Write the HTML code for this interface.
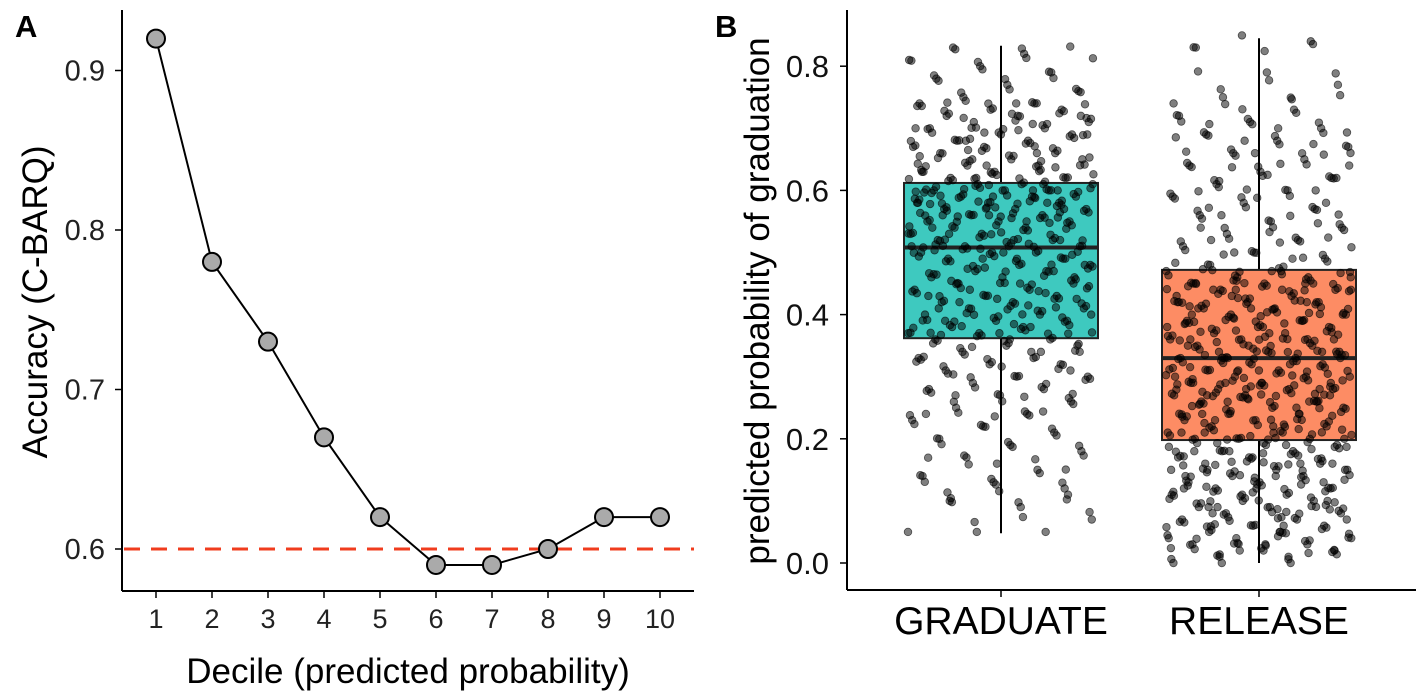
<!DOCTYPE html>
<html><head><meta charset="utf-8"><style>
html,body{margin:0;padding:0;background:#fff;}
svg{display:block;font-family:"Liberation Sans",Arial,sans-serif;}
</style></head><body>
<svg id="chart" width="1418" height="697" viewBox="0 0 1418 697">
<text x="15" y="37" font-size="31" font-weight="bold">A</text>
<text x="715" y="37" font-size="31" font-weight="bold">B</text>
<g id="pa"></g>
<g id="pb"></g>
</svg>
<script>
const deciles=[1,2,3,4,5,6,7,8,9,10];
const accuracy=[0.92,0.78,0.73,0.67,0.62,0.59,0.59,0.60,0.62,0.62];
const aTicks=[0.6,0.7,0.8,0.9];
const aTickLabels=["0.6","0.7","0.8","0.9"];
const baseline=0.6;
const groups=["GRADUATE","RELEASE"];
const q1=[0.362,0.198];
const med=[0.508,0.330];
const q3=[0.612,0.472];
const wLo=[0.048,0.0];
const wHi=[0.833,0.845];
const bTicks=[0,0.2,0.4,0.6,0.8];
const bTickLabels=["0.0","0.2","0.4","0.6","0.8"];
const gradPts=[0.05,0.07,0.09,0.10,0.12,0.13,0.14,0.15,0.17,0.18,0.19,0.20,0.21,0.22,0.23,0.24,0.25,0.26,0.27,0.28,0.28,0.29,0.30,0.30,0.31,0.32,0.32,0.33,0.33,0.34,0.35,0.35,0.36,0.36,0.37,0.37,0.38,0.38,0.39,0.39,0.40,0.40,0.41,0.41,0.42,0.42,0.43,0.43,0.44,0.44,0.45,0.45,0.46,0.46,0.47,0.47,0.48,0.48,0.49,0.49,0.50,0.50,0.50,0.51,0.51,0.51,0.52,0.52,0.53,0.53,0.54,0.54,0.55,0.55,0.55,0.56,0.56,0.57,0.57,0.57,0.58,0.58,0.58,0.59,0.59,0.59,0.60,0.60,0.60,0.61,0.61,0.61,0.62,0.62,0.63,0.63,0.64,0.64,0.65,0.65,0.66,0.66,0.67,0.67,0.68,0.68,0.69,0.69,0.70,0.70,0.71,0.71,0.72,0.72,0.73,0.73,0.74,0.74,0.75,0.76,0.77,0.78,0.79,0.80,0.81,0.82,0.83,0.11,0.16,0.24,0.34,0.44,0.48,0.52,0.56,0.60,0.64,0.70,0.38,0.42,0.46,0.50,0.54,0.58,0.62,0.40,0.45,0.53,0.57,0.59,0.63,0.66,0.68,0.72,0.36,0.41,0.47,0.49,0.51,0.55,0.27,0.31,0.37,0.43,0.61,0.65,0.69,0.74,0.39,0.52,0.56,0.58,0.60];
const relPts=[0.00,0.01,0.02,0.02,0.03,0.03,0.04,0.04,0.05,0.05,0.06,0.06,0.07,0.07,0.08,0.08,0.09,0.09,0.10,0.10,0.11,0.11,0.12,0.12,0.13,0.13,0.14,0.14,0.15,0.15,0.16,0.16,0.17,0.17,0.18,0.18,0.19,0.19,0.20,0.20,0.20,0.21,0.21,0.22,0.22,0.23,0.23,0.24,0.24,0.25,0.25,0.26,0.26,0.27,0.27,0.28,0.28,0.28,0.29,0.29,0.30,0.30,0.30,0.31,0.31,0.32,0.32,0.33,0.33,0.33,0.34,0.34,0.35,0.35,0.36,0.36,0.37,0.37,0.38,0.38,0.39,0.39,0.40,0.40,0.41,0.41,0.42,0.42,0.43,0.43,0.44,0.44,0.45,0.45,0.46,0.46,0.47,0.47,0.48,0.49,0.50,0.51,0.52,0.53,0.54,0.55,0.56,0.57,0.58,0.59,0.60,0.61,0.62,0.63,0.64,0.65,0.66,0.67,0.68,0.69,0.70,0.71,0.72,0.73,0.75,0.77,0.79,0.83,0.84,0.02,0.04,0.06,0.08,0.10,0.12,0.14,0.16,0.18,0.20,0.22,0.24,0.26,0.28,0.30,0.32,0.34,0.36,0.38,0.40,0.42,0.44,0.46,0.05,0.09,0.13,0.17,0.21,0.25,0.29,0.33,0.37,0.41,0.45,0.11,0.15,0.19,0.23,0.27,0.31,0.35,0.39,0.43,0.07,0.14,0.21,0.28,0.35,0.42,0.49,0.56,0.62,0.03,0.18,0.26,0.31,0.38,0.44,0.52,0.58,0.66,0.12,0.24,0.33,0.40,0.47,0.54,0.60,0.68,0.74,0.01,0.09,0.16,0.29,0.36,0.45,0.50,0.64,0.70,0.27,0.34,0.41];
const NS='http://www.w3.org/2000/svg';
function mk(p,t,a){const e=document.createElementNS(NS,t);for(const k in a)e.setAttribute(k,a[k]);p.appendChild(e);return e;}
const pa=document.getElementById('pa');
const ax=d=>156+(d-1)*56;
const ay=v=>549-(v-0.6)*1595;
let e;
e=mk(pa,'line',{x1:122,y1:10,x2:122,y2:591,stroke:'#000','stroke-width':2});

e=mk(pa,'line',{x1:122,y1:591,x2:694,y2:591,stroke:'#000','stroke-width':2});

aTicks.forEach((t,i)=>{mk(pa,'line',{x1:115,x2:122,y1:ay(t),y2:ay(t),stroke:'#000','stroke-width':1.5});
e=mk(pa,'text',{x:105,y:ay(t)+10,'font-size':29,'text-anchor':'end',fill:'#222'});e.textContent=aTickLabels[i];
});
deciles.forEach(d=>{mk(pa,'line',{x1:ax(d),x2:ax(d),y1:591,y2:598,stroke:'#000','stroke-width':1.5});
e=mk(pa,'text',{x:ax(d),y:628,'font-size':27,'text-anchor':'middle',fill:'#222'});e.textContent=d;
});
e=mk(pa,'text',{x:408,y:683,'font-size':35,'text-anchor':'middle',fill:'#000'});e.textContent='Decile (predicted probability)';

e=mk(pa,'text',{x:0,y:0,'font-size':35,'text-anchor':'middle',fill:'#000',transform:'translate(47,302) rotate(-90)'});e.textContent='Accuracy (C-BARQ)';

e=mk(pa,'line',{x1:124,x2:694,y1:ay(baseline),y2:ay(baseline),stroke:'#f03c1e','stroke-width':3,'stroke-dasharray':'16,11'});

e=mk(pa,'polyline',{points:deciles.map((d,i)=>ax(d)+','+ay(accuracy[i])).join(' '),fill:'none',stroke:'#000','stroke-width':2});

deciles.forEach((d,i)=>{e=mk(pa,'circle',{cx:ax(d),cy:ay(accuracy[i]),r:9,fill:'#aaa',stroke:'#000','stroke-width':2});
});
const pb=document.getElementById('pb');
const bx=[1001,1259];
const by=v=>563-v*621;
e=mk(pb,'line',{x1:847,y1:10,x2:847,y2:590,stroke:'#000','stroke-width':2});

e=mk(pb,'line',{x1:847,y1:590,x2:1416,y2:590,stroke:'#000','stroke-width':2});

bTicks.forEach((t,i)=>{mk(pb,'line',{x1:840,x2:847,y1:by(t),y2:by(t),stroke:'#000','stroke-width':1.5});
e=mk(pb,'text',{x:829,y:by(t)+11,'font-size':31,'text-anchor':'end',fill:'#111'});e.textContent=bTickLabels[i];
});
groups.forEach((g,i)=>{mk(pb,'line',{x1:bx[i],x2:bx[i],y1:590,y2:597,stroke:'#000','stroke-width':1.5});
e=mk(pb,'text',{x:bx[i],y:634,'font-size':39,'text-anchor':'middle',fill:'#000'});e.textContent=g;
});
e=mk(pb,'text',{x:0,y:0,'font-size':35,'text-anchor':'middle',fill:'#000',transform:'translate(769,301) rotate(-90)'});e.textContent='predicted probability of graduation';

const fills=['#3ec9bf','#fd8c64'];
groups.forEach((g,i)=>{
e=mk(pb,'line',{x1:bx[i],x2:bx[i],y1:by(wLo[i]),y2:by(wHi[i]),stroke:'#000','stroke-width':2});

e=mk(pb,'rect',{x:bx[i]-97,y:by(q3[i]),width:194,height:by(q1[i])-by(q3[i]),fill:fills[i],stroke:'#222','stroke-width':2});

e=mk(pb,'line',{x1:bx[i]-97,x2:bx[i]+97,y1:by(med[i]),y2:by(med[i]),stroke:'#222','stroke-width':4});

});
[gradPts,relPts].forEach((pts,i)=>{
const gg=mk(pb,'g',{});


for(let rep=0;rep<3;rep++){
pts.forEach((v,k)=>{const f=((k*0.618034+rep*0.37+i*0.3)%1);const dx=(f*2-1)*93;const dy=(rep-1)*((k*0.414)%1)*6;
e=mk(gg,'circle',{cx:bx[i]+dx,cy:by(v)+dy,r:3.8,fill:'rgba(0,0,0,0.5)',stroke:'rgba(0,0,0,0.6)','stroke-width':0.8});

});
}
});
</script>
</body></html>
